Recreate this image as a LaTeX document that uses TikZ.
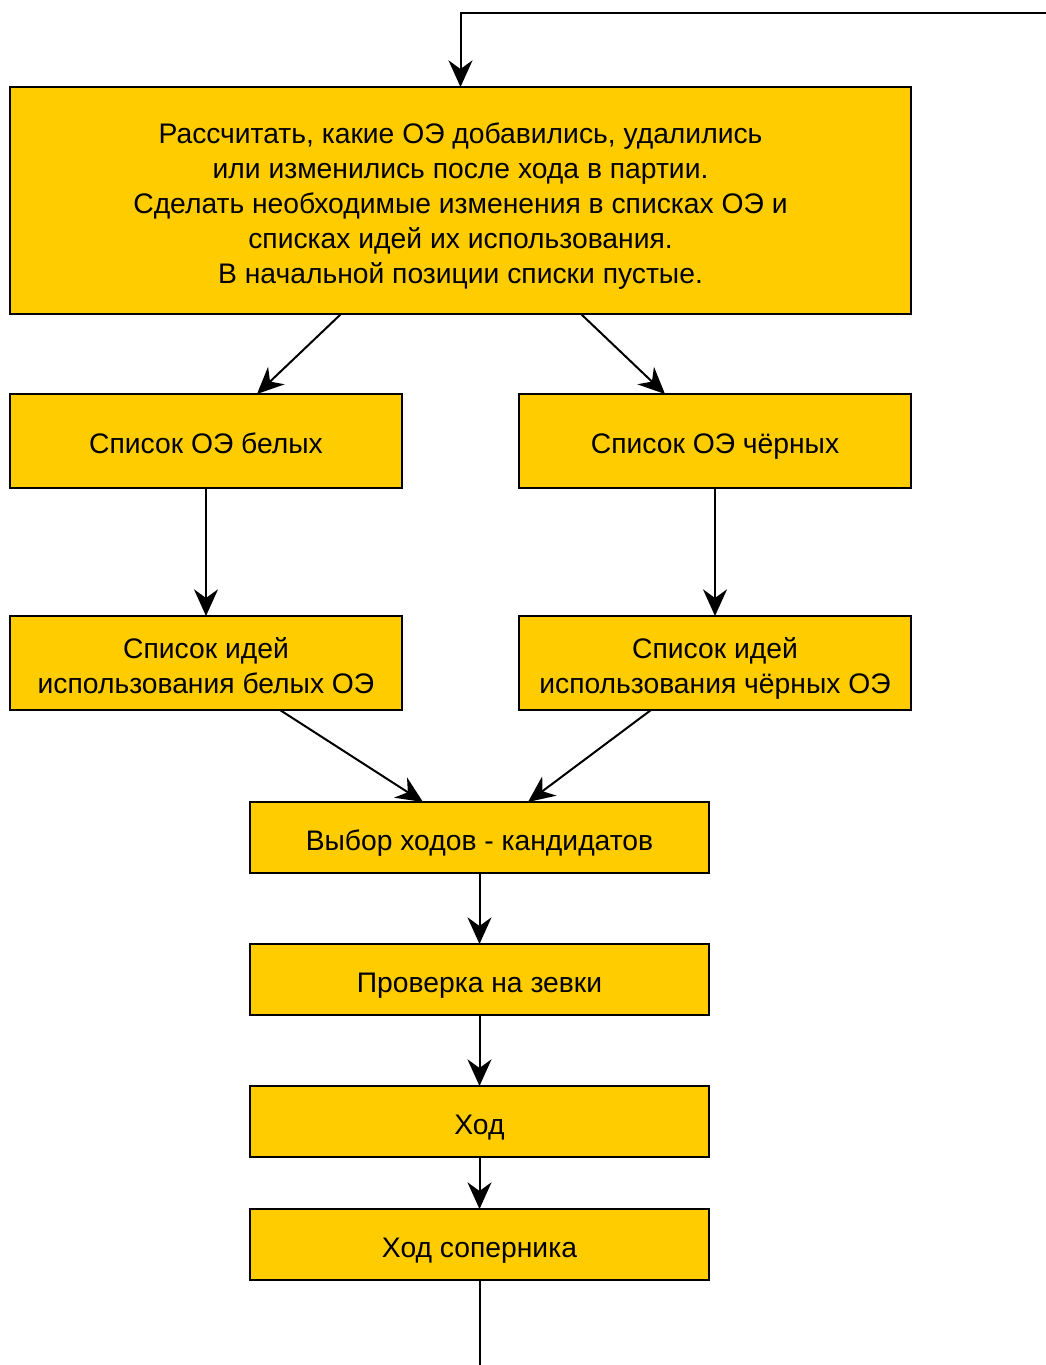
\documentclass[tikz,border=0pt]{standalone}
\usepackage{fontspec}
\setmainfont{Liberation Sans}
\usetikzlibrary{arrows.meta}
\definecolor{boxfill}{HTML}{FFCC00}
\newcommand\ts{\rule[-5pt]{0pt}{29.1pt}}
\newcommand\boxfont{\fontsize{21.2pt}{26.25pt}\selectfont\setlength{\lineskiplimit}{-30pt}\setlength{\lineskip}{0pt}}
\begin{document}
\begin{tikzpicture}[x=0.75pt,y=-0.75pt,
  box/.style={draw=black, fill=boxfill, line width=1.5pt, outer sep=0pt, inner sep=2pt,
    align=center, font=\boxfont, text=black},
  conn/.style={line width=1.5pt, -{Stealth[length=20pt,width=18pt,inset=6.5pt]}},
  plain/.style={line width=1.5pt}]
\useasboundingbox (0,0) rectangle (1046,1365);
\node[box, minimum width=675.75pt, minimum height=170.25pt] (top) at (460.5,200.5)
  {\ts Рассчитать, какие ОЭ добавились, удалились\\\ts или изменились после хода в партии.\\\ts Сделать необходимые изменения в списках ОЭ и\\\ts списках идей их использования.\\\ts В начальной позиции списки пустые.};
\node[box, minimum width=294pt, minimum height=70.5pt] (L1) at (206,441) {\ts Список ОЭ белых};
\node[box, minimum width=294pt, minimum height=70.5pt] (R1) at (715,441) {\ts Список ОЭ чёрных};
\node[box, minimum width=294pt, minimum height=70.5pt] (L2) at (206,663) {\ts Список идей\\\ts использования белых ОЭ};
\node[box, minimum width=294pt, minimum height=70.5pt] (R2) at (715,663) {\ts Список идей\\\ts использования чёрных ОЭ};
\node[box, minimum width=344.25pt, minimum height=53.25pt] (C1) at (479.5,837.5) {\ts Выбор ходов - кандидатов};
\node[box, minimum width=344.25pt, minimum height=53.25pt] (C2) at (479.5,979.5) {\ts Проверка на зевки};
\node[box, minimum width=344.25pt, minimum height=53.25pt] (C3) at (479.5,1121.5) {\ts Ход};
\node[box, minimum width=344.25pt, minimum height=53.25pt] (C4) at (479.5,1244.5) {\ts Ход соперника};
\coordinate (tr) at (1046,13);
\coordinate (bt) at (479.5,1365);
\draw[conn] (tr) -| (top.north);
\draw[conn] ([xshift=248.25pt]top.south west) -- ([xshift=185.25pt]L1.north west);
\draw[conn] ([xshift=428.25pt]top.south west) -- ([xshift=109.5pt]R1.north west);
\draw[conn] (L1.south) -- (L2.north);
\draw[conn] (R1.south) -- (R2.north);
\draw[conn] ([xshift=202.5pt]L2.south west) -- ([xshift=129.75pt]C1.north west);
\draw[conn] ([xshift=99pt]R2.south west) -- ([xshift=208.5pt]C1.north west);
\draw[conn] (C1.south) -- (C2.north);
\draw[conn] (C2.south) -- (C3.north);
\draw[conn] (C3.south) -- (C4.north);
\draw[plain] (C4.south) -- (bt);
\end{tikzpicture}
\end{document}
